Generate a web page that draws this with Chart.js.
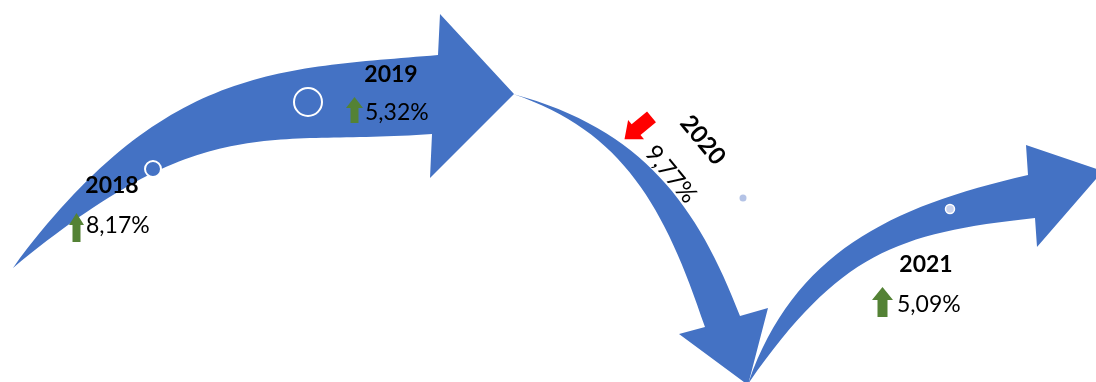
<!DOCTYPE html>
<html>
<head>
<meta charset="utf-8">
<script src="https://cdn.jsdelivr.net/npm/chart.js@4/dist/chart.umd.min.js"></script>
<style>
  html, body { margin: 0; padding: 0; background: #ffffff; overflow: hidden; }
  #c { display: block; }
</style>
</head>
<body>
<canvas id="c" width="1096" height="382"></canvas>
<script>
// ---------------- DATA ----------------
const years   = ['2018', '2019', '2020', '2021'];
const growth  = [8.17, 5.32, -9.77, 5.09];          // annual change, %
const markerX = [153, 308, 743, 950];                 // bubble positions (axis units)
const markerY = [169, 102, 198, 209];
const markerR = [8, 14, 3.5, 4.5];                    // bubble radii

// ---------------- STYLE / LAYOUT ----------------
const BLUE = '#4472c4', GREEN = '#548235', RED = '#ff0000';
const FONT = 'Lato, "Open Sans", "Liberation Sans", sans-serif';
const markerFill   = [BLUE, 'rgba(0,0,0,0)', '#b4c3e6', '#c8d2ee'];
const markerStroke = ['#ffffff', '#ffffff', 'rgba(0,0,0,0)', '#ffffff'];
const markerStrokeW = [2, 2, 0, 1.5];

// label anchors (axis units): year centre/baseline, pct left/baseline, icon box, rotation
const labelLayout = [
  { yx: 112, yy: 193, px: 86,  py: 233, icon: { cx: 76.5, top: 213, h: 29, hw: 15, hh: 12, sw: 8 }, rot: 0 },
  { yx: 391, yy: 82,  px: 365, py: 120, icon: { cx: 354.5, top: 97, h: 26, hw: 17, hh: 11, sw: 8 }, rot: 0 },
  { yx: 703, yy: 140, px: 671, py: 174, icon: { cx: 638, cy: 128, h: 35, hw: 25, hh: 15, sw: 14 }, rot: 50.5 },
  { yx: 926, yy: 272, px: 897, py: 312, icon: { cx: 882.5, top: 287, h: 30, hw: 21, hh: 13, sw: 10 }, rot: 0 }
];

// decorative curved arrows (axis units): cubic edges [P0,P1,P2,P3] from tail, head polygon
const arrowShapes = [
  {
    upper: [[13,268],[163,65],[278,69],[438,55]],
    lower: [[13,268],[205,110],[262,146],[432,134]],
    head:  [[440,14],[514,94],[430,178]]
  },
  {
    upper: [[513,94],[643,129],[698,206],[740,316]],
    lower: [[513,94],[623,131],[665,207],[705,327]],
    head:  [[768,308],[748,385],[679,334]]
  },
  {
    upper: [[748,384],[793,254],[888,207],[1028,175]],
    lower: [[748,384],[839,254],[895,233],[1035,218]],
    head:  [[1026,145],[1103,171],[1037,247]]
  }
];

// ---------------- PLUGINS ----------------
const arrowPlugin = {
  id: 'curvedArrows',
  beforeDatasetsDraw(chart) {
    const { ctx, scales: { x, y } } = chart;
    const m = p => [x.getPixelForValue(p[0]), y.getPixelForValue(p[1])];
    ctx.save();
    ctx.fillStyle = BLUE;
    arrowShapes.forEach(a => {
      const u = a.upper.map(m), l = a.lower.map(m), hd = a.head.map(m);
      ctx.beginPath();
      ctx.moveTo(u[0][0], u[0][1]);
      ctx.bezierCurveTo(u[1][0], u[1][1], u[2][0], u[2][1], u[3][0], u[3][1]);
      hd.forEach(p => ctx.lineTo(p[0], p[1]));
      ctx.lineTo(l[3][0], l[3][1]);
      ctx.bezierCurveTo(l[2][0], l[2][1], l[1][0], l[1][1], l[0][0], l[0][1]);
      ctx.closePath();
      ctx.fill();
    });
    ctx.restore();
  }
};

function blockArrow(ctx, len, hw, hh, sw) {
  // arrow pointing up, centred on origin
  const t = -len / 2, b = len / 2;
  ctx.beginPath();
  ctx.moveTo(0, t);
  ctx.lineTo(hw / 2, t + hh);
  ctx.lineTo(sw / 2, t + hh);
  ctx.lineTo(sw / 2, b);
  ctx.lineTo(-sw / 2, b);
  ctx.lineTo(-sw / 2, t + hh);
  ctx.lineTo(-hw / 2, t + hh);
  ctx.closePath();
  ctx.fill();
}

const fmt = v => Math.abs(v).toFixed(2).replace('.', ',') + '%';

const labelPlugin = {
  id: 'yearLabels',
  afterDatasetsDraw(chart) {
    const { ctx, scales: { x, y } } = chart;
    ctx.save();
    years.forEach((yr, i) => {
      const L = labelLayout[i];
      const up = growth[i] >= 0;
      ctx.fillStyle = '#000000';
      if (!L.rot) {
        ctx.font = 'bold 23px ' + FONT;
        ctx.textAlign = 'center';
        ctx.textBaseline = 'alphabetic';
        ctx.fillText(yr, x.getPixelForValue(L.yx), y.getPixelForValue(L.yy));
        ctx.font = '23px ' + FONT;
        ctx.textAlign = 'left';
        ctx.fillText(fmt(growth[i]), x.getPixelForValue(L.px), y.getPixelForValue(L.py));
        const ic = L.icon;
        ctx.save();
        ctx.translate(x.getPixelForValue(ic.cx), y.getPixelForValue(ic.top + ic.h / 2));
        ctx.fillStyle = up ? GREEN : RED;
        if (!up) ctx.rotate(Math.PI);
        blockArrow(ctx, ic.h, ic.hw, ic.hh, ic.sw);
        ctx.restore();
      } else {
        const r = L.rot * Math.PI / 180;
        const drawRot = (txt, cx, cy, font) => {
          ctx.save();
          ctx.translate(x.getPixelForValue(cx), y.getPixelForValue(cy));
          ctx.rotate(r);
          ctx.font = font;
          ctx.textAlign = 'center';
          ctx.textBaseline = 'alphabetic';
          ctx.fillText(txt, 0, 8);
          ctx.restore();
        };
        drawRot(yr, L.yx, L.yy, 'bold 24px ' + FONT);
        drawRot(fmt(growth[i]), L.px, L.py, '24px ' + FONT);
        const ic = L.icon;
        ctx.save();
        ctx.translate(x.getPixelForValue(ic.cx), y.getPixelForValue(ic.cy));
        ctx.rotate(r + (up ? 0 : Math.PI));
        ctx.fillStyle = up ? GREEN : RED;
        blockArrow(ctx, ic.h, ic.hw, ic.hh, ic.sw);
        ctx.restore();
      }
    });
    ctx.restore();
  }
};

// ---------------- CHART ----------------
new Chart(document.getElementById('c').getContext('2d'), {
  type: 'bubble',
  data: {
    datasets: [{
      label: 'markers',
      data: years.map((_, i) => ({ x: markerX[i], y: markerY[i], r: markerR[i] })),
      backgroundColor: markerFill,
      borderColor: markerStroke,
      borderWidth: markerStrokeW,
      hoverRadius: 0,
      clip: false
    }]
  },
  options: {
    responsive: false,
    animation: false,
    events: [],
    layout: { padding: 0, autoPadding: false },
    scales: {
      x: { type: 'linear', min: 0, max: 1096, display: false },
      y: { type: 'linear', min: 0, max: 382, reverse: true, display: false }
    },
    plugins: { legend: { display: false }, tooltip: { enabled: false } }
  },
  plugins: [arrowPlugin, labelPlugin]
});
</script>
</body>
</html>
